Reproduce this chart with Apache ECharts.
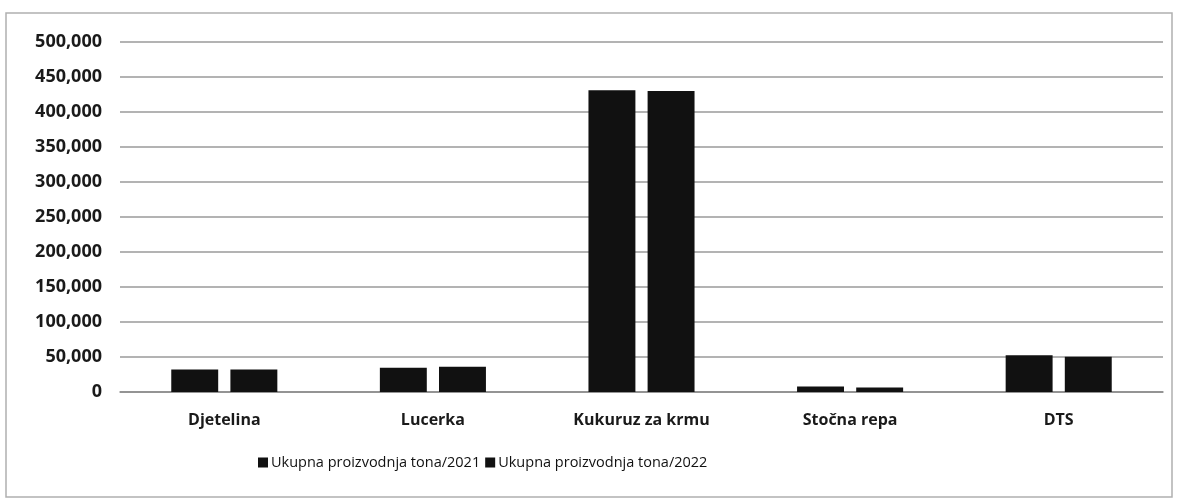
<!DOCTYPE html>
<html>
<head>
<meta charset="utf-8">
<script src="https://cdn.jsdelivr.net/npm/echarts@6/dist/echarts.min.js"></script>
<style>
html,body{margin:0;padding:0;background:#fff;}
#chart{width:1178px;height:501px;}
</style>
</head>
<body>
<div id="chart"></div>
<script>
const categories = ['Djetelina', 'Lucerka', 'Kukuruz za krmu', 'Stočna repa', 'DTS'];
const seriesNames = ['Ukupna proizvodnja tona/2021', 'Ukupna proizvodnja tona/2022'];
const values2021 = [32000, 34500, 431000, 8000, 52500];
const values2022 = [32000, 36000, 430000, 6500, 50500];
const yTicks = [0, 50000, 100000, 150000, 200000, 250000, 300000, 350000, 400000, 450000, 500000];

const FONT = '"Open Sans", "Liberation Sans", sans-serif';
const chart = echarts.init(document.getElementById('chart'), null, {renderer: 'canvas'});
chart.setOption({
  backgroundColor: '#ffffff',
  animation: false,
  graphic: [{
    type: 'rect',
    shape: {x: 6, y: 13, width: 1166, height: 484},
    style: {fill: 'none', stroke: '#b0b0b0', lineWidth: 1.5},
    silent: true
  }],
  grid: {left: 120, right: 15, top: 42, bottom: 109, containLabel: false},
  legend: {
    data: seriesNames,
    bottom: 26,
    left: 253,
    itemWidth: 10,
    itemHeight: 10,
    itemGap: 5,
    icon: 'rect',
    textStyle: {fontFamily: FONT, fontSize: 14.5, color: '#111', padding: [0, 0, 0, -2]}
  },
  xAxis: {
    type: 'category',
    data: categories,
    axisLine: {show: true, lineStyle: {color: '#8a8a8a', width: 1.5}},
    axisTick: {show: false},
    axisLabel: {fontFamily: FONT, fontSize: 16, fontWeight: 'bold', color: '#1a1a1a', margin: 20}
  },
  yAxis: {
    type: 'value',
    min: yTicks[0],
    max: yTicks[yTicks.length - 1],
    interval: yTicks[1] - yTicks[0],
    axisLine: {show: false},
    axisTick: {show: false},
    splitLine: {lineStyle: {color: '#9a9a9a', width: 1.5}},
    axisLabel: {
      fontFamily: FONT, fontSize: 18, fontWeight: 'bold', color: '#1a1a1a', margin: 18,
      formatter: v => v.toLocaleString('en-US')
    }
  },
  series: [
    {name: seriesNames[0], type: 'bar', data: values2021, barWidth: '22.5%', barGap: '26%',
     itemStyle: {color: '#111111'}},
    {name: seriesNames[1], type: 'bar', data: values2022, barWidth: '22.5%',
     itemStyle: {color: '#111111'}}
  ]
});
</script>
</body>
</html>
